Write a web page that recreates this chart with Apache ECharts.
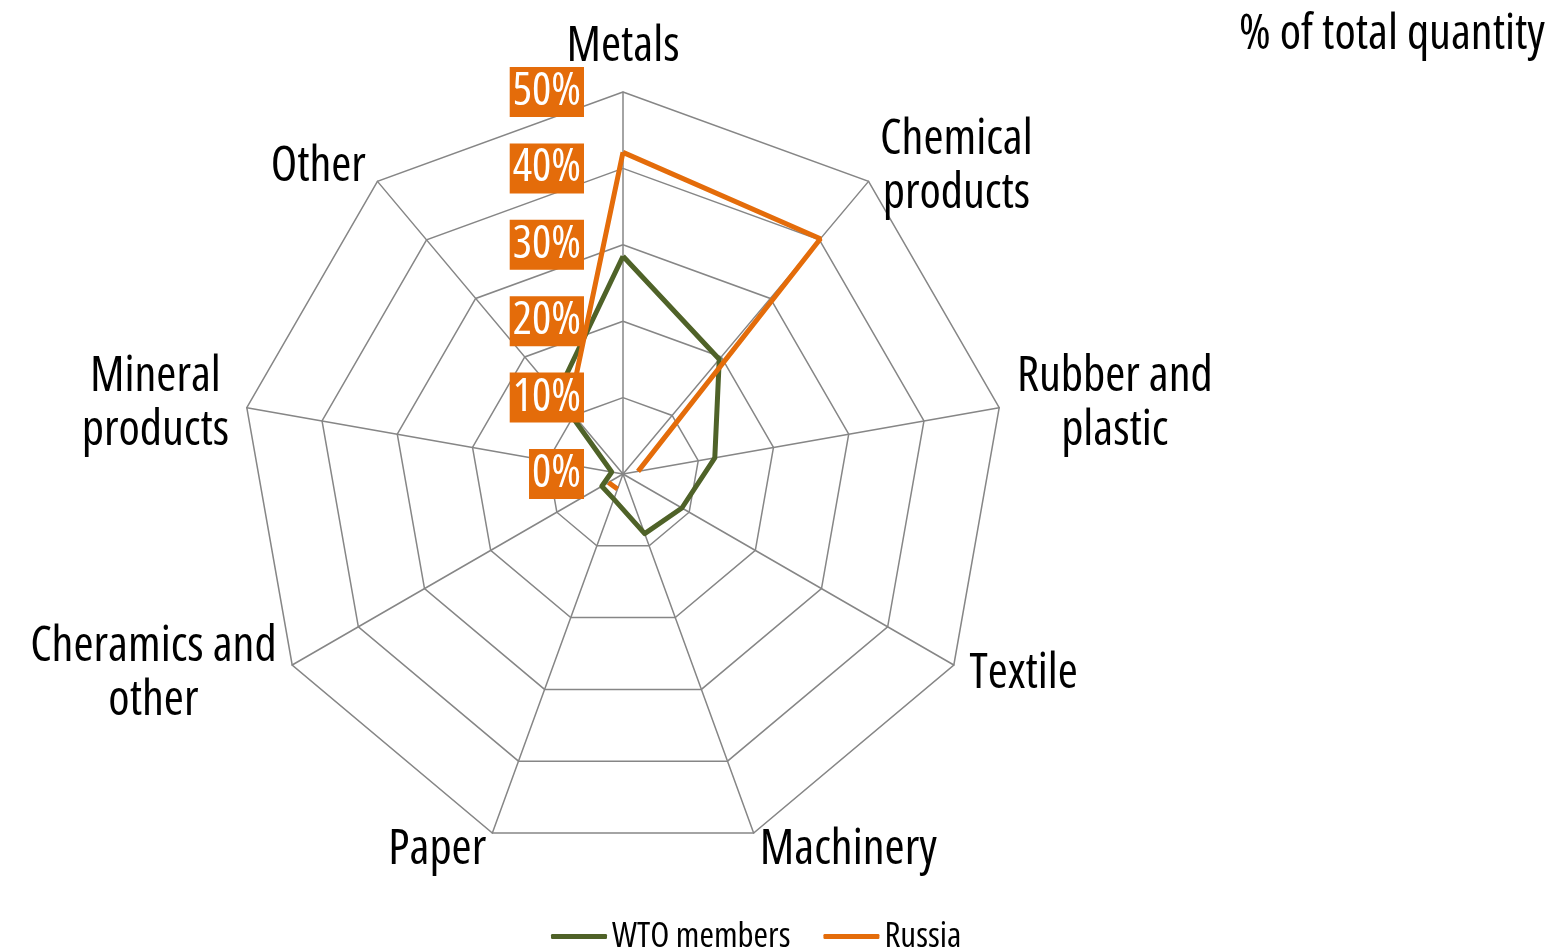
<!DOCTYPE html>
<html><head><meta charset="utf-8">
<script src="https://cdn.jsdelivr.net/npm/echarts@6/dist/echarts.min.js"></script>
<style>html,body{margin:0;padding:0;background:#fff}#c{width:1556px;height:952px}</style>
</head><body><div id="c"></div>
<script>
// ---- data ----
const categories = ['Metals', 'Chemical\nproducts', 'Rubber and\nplastic', 'Textile', 'Machinery', 'Paper', 'Cheramics and\nother', 'Mineral\nproducts', 'Other'];
const wtoValues = [28.5, 19.6, 12.2, 8.9, 8.3, 3.5, 3.2, 1.5, 13.5];
const russiaValues = [42.1, 40.2, 2.0, null, null, 2.1, 2.2, null, 11.0];
const tickValues = [0, 10, 20, 30, 40, 50];
const seriesNames = ['WTO members', 'Russia'];
const titleText = '% of total quantity';

// ---- pick a narrow font (Arial Narrow look) among installed ones ----
function pickFont() {
  const ctx = document.createElement('canvas').getContext('2d');
  const target = 6.518; // width of the title sample in em for Arial Narrow
  const cands = [
    { fam: "'Liberation Sans Narrow'", st: '' },
    { fam: "'Arial Narrow'", st: '' },
    { fam: "'Nimbus Sans Narrow'", st: '' },
    { fam: "'Noto Sans'", st: 'condensed' },
    { fam: "'Open Sans'", st: 'condensed' },
    { fam: "Roboto", st: 'condensed' },
    { fam: "'DejaVu Sans Condensed'", st: '' },
    { fam: "'Liberation Sans'", st: '' }
  ];
  let best = null;
  for (const c of cands) {
    ctx.font = (c.st ? c.st + ' ' : '') + '100px ' + c.fam + ", 'Liberation Sans'";
    const r = ctx.measureText(titleText).width / 100;
    const err = Math.abs(r - target);
    if (!best || err < best.err - 0.05) best = { fam: c.fam, st: c.st, r: r, err: err };
  }
  best.scale = Math.max(0.8, Math.min(1.15, target / best.r));
  return best;
}
const pf = pickFont();
const FONT = pf.fam + ", 'Liberation Sans', sans-serif";
const FW = pf.st || 'normal';
const fs = (v) => Math.round(v * pf.scale * 10) / 10;

// ---- styles ----
const GREEN = '#4F6228', ORANGE = '#E46C0A', GRID = '#868686';
const CENTER = [623, 474], RADIUS = 382;

const n = categories.length;
// ECharts radar lays indicators counter-clockwise; reorder so categories go clockwise
const order = [0];
for (let i = n - 1; i >= 1; i--) order.push(i);
const tMin = tickValues[0], tMax = tickValues[tickValues.length - 1], tInt = tickValues[1] - tickValues[0];

const indicators = order.map(i => ({ name: categories[i], min: tMin, max: tMax }));
const wtoOrdered = order.map(i => wtoValues[i]);

// Russia with gaps -> polar line (angle from category index)
const russiaData = russiaValues.map((v, i) => [v == null ? '-' : v, i * 360 / n]);
russiaData.push([russiaValues[0], 360]);

const chart = echarts.init(document.getElementById('c'));
chart.setOption({
  animation: false,
  color: [GREEN, ORANGE],
  title: {
    text: titleText, right: 6, top: 6,
    textStyle: { fontFamily: FONT, fontSize: fs(47), fontWeight: FW, color: '#000' }
  },
  legend: {
    data: seriesNames.map(s => ({ name: s, icon: 'roundRect' })),
    left: 551, top: 919, itemWidth: 56, itemHeight: 5, itemGap: 33, padding: 0,
    textStyle: { fontFamily: FONT, fontSize: fs(34), fontWeight: FW, color: '#000' }
  },
  radar: {
    center: CENTER, radius: RADIUS, startAngle: 90, shape: 'polygon', splitNumber: 5,
    indicator: indicators,
    axisName: {
      color: '#000', fontFamily: FONT, fontSize: fs(47), fontWeight: FW, lineHeight: 54,
      formatter: (name) => name.split('\n').map(l => '{c|' + l + '}').join('\n'),
      rich: { c: { align: 'center', fontFamily: FONT, fontSize: fs(47), fontWeight: FW, lineHeight: 54, color: '#000' } }
    },
    nameGap: 18,
    axisLine: { lineStyle: { color: GRID, width: 1.5 } },
    splitLine: { lineStyle: { color: GRID, width: 1.5 } },
    splitArea: { show: false },
    axisTick: { show: false },
    axisLabel: { show: false }
  },
  polar: { center: CENTER, radius: RADIUS },
  angleAxis: { type: 'value', min: 0, max: 360, startAngle: 90, clockwise: true, show: false },
  radiusAxis: {
    type: 'value', min: tMin, max: tMax, interval: tInt, z: 10,
    axisLine: { show: false }, axisTick: { show: false }, splitLine: { show: false },
    axisLabel: {
      show: true, showMinLabel: true, showMaxLabel: true, margin: 39,
      formatter: '{value}%', color: '#fff', fontFamily: FONT, fontSize: fs(44), fontWeight: FW, lineHeight: 44,
      backgroundColor: ORANGE, padding: [3, 3, 3, 3]
    }
  },
  series: [
    {
      name: seriesNames[0], type: 'radar', symbol: 'none', z: 2,
      lineStyle: { color: GREEN, width: 5 },
      data: [{ value: wtoOrdered, name: seriesNames[0] }]
    },
    {
      name: seriesNames[1], type: 'line', coordinateSystem: 'polar', symbol: 'none', z: 3,
      connectNulls: false,
      lineStyle: { color: ORANGE, width: 5 },
      data: russiaData
    }
  ]
});
</script></body></html>
